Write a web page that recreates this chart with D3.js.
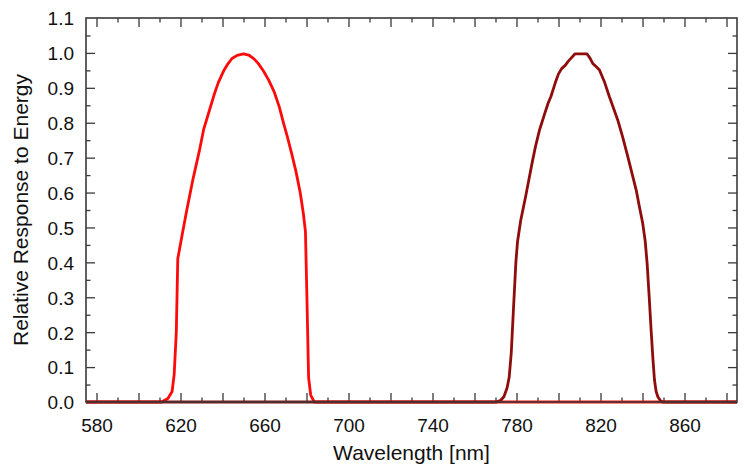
<!DOCTYPE html>
<html>
<head>
<meta charset="utf-8">
<script src="https://cdn.jsdelivr.net/npm/d3@7"></script>
<style>
	body { margin: 0; background: #fff; }
	#chart text { font-family: "Liberation Sans", Arial, sans-serif; fill: #111; }
</style>
</head>
<body>
<div id="chart"></div>
<script>
//////////////////////////// data /////////////////////////////////////////

const redWavelength = [575, 611, 614, 616, 617, 618, 618.7, 620.5, 623, 626, 629, 631, 634, 636, 638, 640.5,
	642.5, 644.5, 647, 650, 652.5, 655, 657, 659.5, 662, 664.5, 667, 669, 671, 673, 675, 677, 678.5, 679.5,
	680.2, 681, 682, 683.7, 885];
const redResponse = [0, 0, 0.01, 0.03, 0.08, 0.2, 0.41, 0.47, 0.55, 0.64, 0.72, 0.78, 0.84, 0.88, 0.915, 0.948,
	0.968, 0.984, 0.993, 0.997, 0.994, 0.983, 0.97, 0.948, 0.922, 0.89, 0.846, 0.8, 0.757, 0.71, 0.66, 0.6, 0.54, 0.488,
	0.3, 0.07, 0.02, 0, 0];

const darkWavelength = [575, 770.5, 772.5, 774, 775.5, 776.5, 777.5, 778.5, 779.7, 780.5, 782, 784.4, 786, 787.6,
	789.2, 791, 793.2, 795, 796.4, 798.5, 800, 801.5, 803.3, 804.5, 806, 807.8, 813.6, 815, 816.3, 818, 819.5, 822,
	824.2, 826, 828.2, 830.5, 833, 835, 837, 838.5, 840.1, 841.3, 842.2, 843.2, 844.1, 845, 845.7, 846.5, 847.3,
	848.5, 849.7, 885];
const darkResponse = [0, 0, 0.005, 0.015, 0.04, 0.07, 0.14, 0.26, 0.4, 0.46, 0.52, 0.59, 0.64, 0.69,
	0.736, 0.78, 0.822, 0.855, 0.875, 0.915, 0.94, 0.955, 0.965, 0.975, 0.985, 0.997, 0.997, 0.985, 0.97, 0.96, 0.951, 0.915,
	0.875, 0.845, 0.808, 0.76, 0.703, 0.655, 0.607, 0.56, 0.512, 0.46, 0.397, 0.3, 0.206, 0.12, 0.063, 0.03, 0.015,
	0.004, 0, 0];

const xDomain = [575, 885];
const yDomain = [0, 1.1];
const xLabelTicks = [580, 620, 660, 700, 740, 780, 820, 860];
const yLabelTicks = [0, 0.1, 0.2, 0.3, 0.4, 0.5, 0.6, 0.7, 0.8, 0.9, 1.0, 1.1];

const xTitle = "Wavelength [nm]";
const yTitle = "Relative Response to Energy";

//////////////////////////// drawing function /////////////////////////////

const createChart = () => {
	let dimensions = {
		width: 744,
		height: 468,
		margin: { top: 18, right: 7, bottom: 66, left: 86 }
	};
	dimensions.boundedWidth = dimensions.width - dimensions.margin.left - dimensions.margin.right;
	dimensions.boundedHeight = dimensions.height - dimensions.margin.top - dimensions.margin.bottom;

	const frameColor = "#3a3a3a";
	const majorTick = 9;
	const minorTick = 4.5;

	const wrapper = d3.select("#chart").append("svg")
		.attr("width", dimensions.width)
		.attr("height", dimensions.height);

	const bounds = wrapper.append("g")
		.attr("transform", `translate(${dimensions.margin.left},${dimensions.margin.top})`);

	//////////////////////////// scales ///////////////////////////////////////

	const xScale = d3.scaleLinear().domain(xDomain).range([0, dimensions.boundedWidth]);
	const yScale = d3.scaleLinear().domain(yDomain).range([dimensions.boundedHeight, 0]);

	// major every 20 nm / 0.1, minor every 10 nm / 0.05
	const xMajor = d3.range(580, 885, 20);
	const xMinor = d3.range(590, 885, 20);
	const yMajor = d3.range(0, 11).map((d) => d / 10);
	const yMinor = d3.range(0, 11).map((d) => d / 10 + 0.05);

	//////////////////////////// ticks ////////////////////////////////////////

	const tickAxis = (gen, values, size, transform) => {
		const g = bounds.append("g")
			.attr("transform", transform)
			.call(gen.tickValues(values).tickSize(-size).tickFormat(""));
		g.select(".domain").remove();
		g.selectAll("line").attr("stroke", frameColor).attr("stroke-width", 1.3);
	};

	const bottom = `translate(0,${dimensions.boundedHeight})`;
	const right = `translate(${dimensions.boundedWidth},0)`;
	tickAxis(d3.axisBottom(xScale), xMajor, majorTick, bottom);
	tickAxis(d3.axisBottom(xScale), xMinor, minorTick, bottom);
	tickAxis(d3.axisTop(xScale), xMajor, majorTick, "");
	tickAxis(d3.axisTop(xScale), xMinor, minorTick, "");
	tickAxis(d3.axisLeft(yScale), yMajor, majorTick, "");
	tickAxis(d3.axisLeft(yScale), yMinor, minorTick, "");
	tickAxis(d3.axisRight(yScale), yMajor, majorTick, right);
	tickAxis(d3.axisRight(yScale), yMinor, minorTick, right);

	//////////////////////////// labels ///////////////////////////////////////

	const xLabels = bounds.append("g")
		.attr("transform", bottom)
		.call(d3.axisBottom(xScale).tickValues(xLabelTicks).tickSize(0).tickPadding(17).tickFormat(d3.format("d")));
	xLabels.select(".domain").remove();
	xLabels.selectAll("text").style("font-size", "19px");

	const yLabels = bounds.append("g")
		.call(d3.axisLeft(yScale).tickValues(yLabelTicks).tickSize(0).tickPadding(12).tickFormat(d3.format(".1f")));
	yLabels.select(".domain").remove();
	yLabels.selectAll("text").style("font-size", "19px").attr("dy", "0.36em");

	//////////////////////////// lines ////////////////////////////////////////

	const lineGen = d3.line()
		.x((d) => xScale(d[0]))
		.y((d) => yScale(d[1]));

	const series = [
		{ values: d3.zip(redWavelength, redResponse), color: "#ff0a0a" },
		{ values: d3.zip(darkWavelength, darkResponse), color: "#8e0c0c" }
	];

	bounds.append("g")
		.selectAll("path")
		.data(series)
		.join("path")
		.attr("d", (d) => lineGen(d.values))
		.attr("fill", "none")
		.attr("stroke", (d) => d.color)
		.attr("stroke-width", 2.8)
		.attr("stroke-linejoin", "round");

	//////////////////////////// frame ////////////////////////////////////////

	bounds.append("rect")
		.attr("width", dimensions.boundedWidth)
		.attr("height", dimensions.boundedHeight)
		.attr("fill", "none")
		.attr("stroke", frameColor)
		.attr("stroke-width", 1.6);

	//////////////////////////// titles ///////////////////////////////////////

	wrapper.append("text")
		.attr("x", dimensions.margin.left + dimensions.boundedWidth / 2)
		.attr("y", 460)
		.attr("text-anchor", "middle")
		.style("font-size", "21px")
		.text(xTitle);

	wrapper.append("text")
		.attr("transform", `translate(28,${dimensions.margin.top + dimensions.boundedHeight / 2}) rotate(-90)`)
		.attr("text-anchor", "middle")
		.style("font-size", "21px")
		.text(yTitle);
};

createChart();
</script>
</body>
</html>
